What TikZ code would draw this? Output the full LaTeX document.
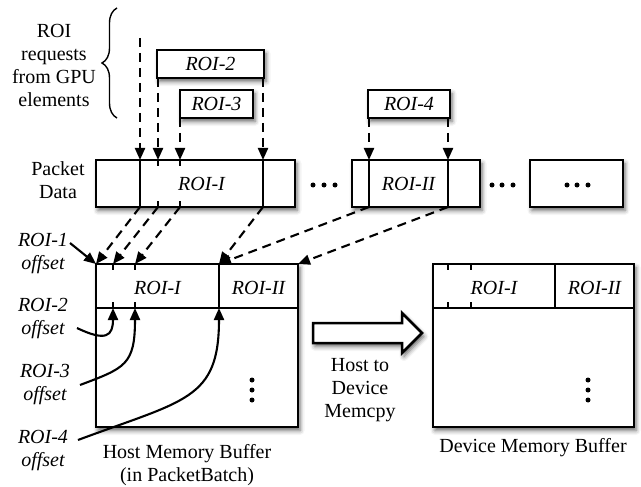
\documentclass[tikz,border=0pt]{standalone}
\usepackage{fontspec}
\setmainfont{Liberation Serif}
\usetikzlibrary{arrows.meta,shadows.blur,decorations.pathreplacing}

\begin{document}
\begin{tikzpicture}[x=1pt,y=-1pt,
  font=\fontsize{20}{23}\selectfont,
  shade box/.style={blur shadow={shadow xshift=2pt, shadow yshift=-3.5pt, shadow blur radius=4.5pt, shadow opacity=60}},
  box/.style={draw, line width=2.5pt, fill=white, inner sep=0pt, outer sep=0pt,
    anchor=north west, font=\fontsize{20}{23}\selectfont\itshape, shade box},
  lbl/.style={inner sep=0pt, align=center, font=\fontsize{20}{23}\selectfont\itshape},
  txt/.style={inner sep=0pt, align=center},
  headed/.style={-{Triangle[width=10pt,length=12pt]}},
  req/.style={headed, dash pattern=on 9pt off 6pt, line width=2.1pt},
  divider/.style={line width=2.3pt},
  tick/.style={line width=2pt},
  bead/.style={circle, fill, inner sep=0pt, minimum size=5pt},
  curve/.style={headed, line width=2.1pt},
]
\useasboundingbox (0,0) rectangle (641,487);

% --- requests coming from the GPU elements
\node[txt] (reqtxt) at (54,65) {ROI\\requests\\from GPU\\elements};
\draw[decorate, decoration={brace, amplitude=15pt, aspect=0.5}, line width=1.4pt]
  (117,118) -- (117,8);

\node[box, minimum width=107pt, minimum height=28pt] (r2) at (157,50) {ROI-2};
\node[box, minimum width=73pt,  minimum height=28pt] (r3) at (180,90) {ROI-3};
\node[box, minimum width=82pt,  minimum height=28pt] (r4) at (368,90) {ROI-4};

% --- packet data
\node[txt] (pdl) at (58,180) {Packet\\Data};
\node[box, minimum width=199pt, minimum height=47pt] (pk1) at (96,160) {};
\node[box, minimum width=128pt, minimum height=47pt] (pk2) at (352,160) {};
\node[box, minimum width=93pt,  minimum height=47pt] (pk3) at (530,160) {};

\draw[divider] (140,160) -- (140,207);
\draw[divider] (263,160) -- (263,207);
\draw[divider] (369,160) -- (369,207);
\draw[divider] (448,160) -- (448,207);
\foreach \x in {158,180} {
  \draw[tick] (\x,160) -- (\x,166);
  \draw[tick] (\x,201) -- (\x,207);
}
\node[lbl] (pkroi1) at (201.5,184) {ROI-I};
\node[lbl] (pkroi2) at (408.5,184) {ROI-II};

\foreach \x in {313,324,335} \node[bead] at (\x,185) {};
\foreach \x in {492,502,513} \node[bead] at (\x,185) {};
\foreach \x in {567,577,588} \node[bead] at (\x,185) {};

% packet anchor points
\coordinate (pa) at (140,160); \coordinate (ba) at (140,207);
\coordinate (pb) at (158,160); \coordinate (bb) at (158,207);
\coordinate (pc) at (180,160); \coordinate (bc) at (180,207);
\coordinate (pd) at (263,160); \coordinate (bd) at (263,207);
\coordinate (pe) at (369,160); \coordinate (be) at (369,207);
\coordinate (pf) at (448,160); \coordinate (bf) at (448,207);
\coordinate (q1) at (140,38);

\draw[req] (q1) -- (pa);
\draw[req] (r2.south west -| pb) -- (pb);
\draw[req] (r2.south east -| pd) -- (pd);
\draw[req] (r3.south west -| pc) -- (pc);
\draw[req] (r4.south west -| pe) -- (pe);
\draw[req] (r4.south east -| pf) -- (pf);

% --- host memory buffer
\node[box, minimum width=202pt, minimum height=163pt] (host) at (96,264) {};
\draw[divider] (96,308) -- (298,308);
\draw[divider] (219,264) -- (219,308);
\foreach \x in {113,135} {
  \draw[tick] (\x,264) -- (\x,270);
  \draw[tick] (\x,302) -- (\x,308);
}
\node[lbl] (hroi1) at (157.5,288) {ROI-I};
\node[lbl] (hroi2) at (258.5,288) {ROI-II};
\foreach \y in {380,390,400} \node[bead] at (252,\y) {};
\node[txt] (hostlbl) at (187,465) {Host Memory Buffer\\(in PacketBatch)};

\coordinate (ha) at (96,264);
\coordinate (hb) at (113,264);
\coordinate (hc) at (135,264);
\coordinate (hd) at (219,264);
\coordinate (hf) at (298,264);
\coordinate (ub) at (113,308);
\coordinate (uc) at (135,308);
\coordinate (ud) at (219,308);

\draw[req] (ba) -- (ha);
\draw[req] (bb) -- (hb);
\draw[req] (bc) -- (hc);
\draw[req] (bd) -- (hd);
\draw[req] (be) -- (hd);
\draw[req] (bf) -- (hf);

% --- offsets
\node[lbl] (o1) at (43,254) {ROI-1\\offset};
\node[lbl] (o2) at (43,319) {ROI-2\\offset};
\node[lbl] (o3) at (45,385) {ROI-3\\offset};
\node[lbl] (o4) at (43,451) {ROI-4\\offset};
\coordinate (s1) at (70,243);
\coordinate (s2) at (77,328);
\coordinate (s3) at (80,385);
\coordinate (s4) at (78,440);
\draw[curve] (s1) -- (ha);
\draw[curve] (s2) .. controls (106,342) and (113,336) .. (ub);
\draw[curve] (s3) .. controls (125,368) and (135,365) .. (uc);
\draw[curve] (s4) .. controls (185,400) and (219,400) .. (ud);

% --- copy to the device
\draw[line width=2.5pt, fill=white, line join=miter, shade box]
  (313,323) -- (402,323) -- (402,313) -- (422,333) -- (402,353) -- (402,343) -- (313,343) -- cycle;
\node[txt] (memcpy) at (360,390) {Host to\\Device\\Memcpy};

% --- device memory buffer
\node[box, minimum width=201pt, minimum height=163pt] (dev) at (433,264) {};
\draw[divider] (433,308) -- (634,308);
\draw[divider] (555,264) -- (555,308);
\foreach \x in {448,471} {
  \draw[tick] (\x,264) -- (\x,270);
  \draw[tick] (\x,302) -- (\x,308);
}
\node[lbl] (droi1) at (494,288) {ROI-I};
\node[lbl] (droi2) at (594.5,288) {ROI-II};
\foreach \y in {380,390,400} \node[bead] at (588,\y) {};
\node[txt] (devlbl) at (533,448) {Device Memory Buffer};

\end{tikzpicture}
\end{document}
